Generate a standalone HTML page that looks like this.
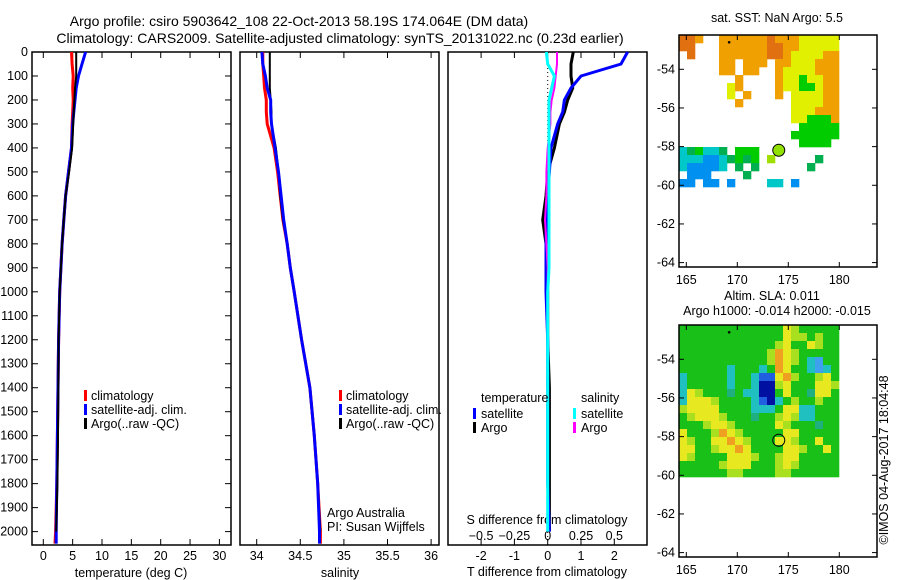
<!DOCTYPE html>
<html><head><meta charset="utf-8"><style>
body{margin:0;background:#fff}
svg{display:block;font-family:"Liberation Sans",sans-serif;font-size:12.5px}
.big{font-size:14px}
</style></head><body>
<svg id="c" width="900" height="580" viewBox="0 0 900 580">
<text class="big" x="299" y="26" text-anchor="middle">Argo profile: csiro 5903642_108 22-Oct-2013 58.19S 174.064E (DM data)</text>
<text class="big" x="340" y="43" text-anchor="middle">Climatology: CARS2009. Satellite-adjusted climatology: synTS_20131022.nc (0.23d earlier)</text>
<text x="777" y="22" text-anchor="middle">sat. SST: NaN Argo: 5.5</text>
<text x="772" y="300" text-anchor="middle">Altim. SLA: 0.011</text>
<text x="777" y="315" text-anchor="middle">Argo h1000: -0.014 h2000: -0.015</text>
<text transform="translate(888,460) rotate(-90)" text-anchor="middle">©IMOS 04-Aug-2017 18:04:48</text>
</svg>
<script>
const depths=[0,50,100,150,200,250,300,400,500,600,700,800,900,1000,1200,1400,1600,1800,2000,2050];
const tClim=[4.8,4.9,5.1,5.0,5.1,5.0,4.9,4.8,4.3,3.8,3.5,3.2,3.0,2.8,2.6,2.5,2.4,2.3,2.1,2.0];
const tSat=[7.2,6.6,6.0,5.6,5.4,5.2,5.0,4.8,4.3,3.8,3.5,3.2,3.0,2.8,2.6,2.5,2.4,2.3,2.2,2.2];
const tArgo=[5.6,5.6,5.6,5.4,5.3,5.2,5.1,4.9,4.4,3.8,3.5,3.2,3.0,2.8,2.6,2.55,2.5,2.4,2.2];
const sClim=[34.07,34.07,34.08,34.09,34.11,34.11,34.12,34.20,34.24,34.27,34.30,34.35,34.385,34.43,34.515,34.61,34.66,34.70,34.73,34.73];
const sSat=[34.06,34.07,34.10,34.12,34.16,34.16,34.17,34.21,34.25,34.28,34.31,34.35,34.385,34.43,34.515,34.61,34.66,34.70,34.72,34.72];
const sArgo=[34.15,34.15,34.15,34.15,34.16,34.17,34.17,34.22,34.25,34.27,34.30,34.35,34.385,34.43,34.515,34.61,34.66,34.70,34.73];
const dtSat=[2.4,2.2,1.0,0.7,0.5,0.45,0.3,0.1,0.05,0.0,-0.05,-0.05,-0.05,-0.05,0.0,0.0,0.0,0.0,0.05];
const dtArgo=[0.77,0.7,0.7,0.75,0.6,0.5,0.35,0.2,0.0,-0.05,-0.15,-0.05,-0.02,0.0,0.0,0.05,0.05,0.05,0.05];
const dsSat=[-0.01,0.0,0.05,0.03,0.01,0.01,0.01,0.01,0.01,0.01,0.01,0.01,0.01,0.0,0.0,0.0,0.0,0.0,0.0];
const dsArgo=[0.07,0.07,0.06,0.05,0.03,0.02,0.02,0.0,-0.01,-0.01,-0.02,-0.01,0.0,0.0,0.0,0.0,0.0,0.0,0.0];
const depthTicks=[0,100,200,300,400,500,600,700,800,900,1000,1100,1200,1300,1400,1500,1600,1700,1800,1900,2000];
const tTicks=[0,5,10,15,20,25,30];
const sTicks=[34,34.5,35,35.5,36];
const dtTicks=[-2,-1,0,1,2];
const dsTicks=[-0.5,-0.25,0,0.25,0.5];
const lonTicks=[165,170,175,180];
const latTicks=[-54,-56,-58,-60,-62,-64];
const sstRows=["OOo..ooooooOoooyyyyy","OO...ooooooOOooyyyyy",".O...ooooooOOoyyyyoo",".....oo.ooo.ooyyyooo",".....oo.oo..oyyyyooo",".......o....oyygyyoo","......yo....oyyggyoo","......y.o...o.yyyyoo",".......o......yyyyoo","..............yyyooo","..............yygggo","...............ggggg","..............gggggg","...............gggg.","cGgccG.ggg..........","cccbbcGgGg.Y.....G..","cbbbbc.G.G......G...",".bbb....G...........","bb.bb.b....cc.b....."];
const slaRows=["gggggggggggggyYggggg","gggggggggggggyYYgYgg","ggggggggggggYyggyYgg","gggggggggggYoyYggggg","gggggggggggYoyYgcCgg","ggggggcgggcgoyggcCcg","cgggggcggcbbyoYggYyg","cgggggcggcBBYygggyyY","cyYgggtgccBBgyggtyyg","cyyyYggggcbBcgYggYgg","Yyyyyggggcccgyyccggg","gYyyyYgggtggYyYccggg","gggYyyYgggggyYgggtgg","ygggYoyYgggggyyggggg","yYggyyoyYgggyyYggygg","yyggYyyoyggggyyYggyg","yYggggyyyYggYyyggggg","gggggYyyygggYyYggggg","ggggggYYggggYYgggggg"];
const argoLon=174.064, argoLat=-58.19;

const svg=document.getElementById('c'),NS='http://www.w3.org/2000/svg';
function mk(t,a,p){const e=document.createElementNS(NS,t);for(const k in a)e.setAttribute(k,a[k]);(p||svg).appendChild(e);return e;}
const Y=d=>52+d*0.2398;
const Xt=v=>43.3+v*5.87, Xs=v=>256.7+(v-34)*87.2, Xd=v=>547.7+v*33.3, Xds=v=>547.7+v*4*33.3;
function line(xs,vals,fn,col,name,w){
  const pts=vals.map((v,i)=>fn(v).toFixed(1)+','+Y(depths[i]).toFixed(1)).join(' ');
  const e=mk('polyline',{points:pts,fill:'none',stroke:col,'stroke-width':w||3});
  
  
}
function frame(x0,x1,name){const e=mk('rect',{x:x0,y:52,width:x1-x0,height:493,fill:'none',stroke:'#000','stroke-width':1.5});
  }
function txt(x,y,s,anchor,name){const e=mk('text',{x:x,y:y,'text-anchor':anchor||'start'});e.textContent=s;
  return e;}
function tick(x1,y1,x2,y2){mk('line',{x1,y1,x2,y2,stroke:'#000','stroke-width':1});}

// panel 1
frame(32,231,'temperature-panel');
depthTicks.forEach(d=>{const y=Y(d);tick(32,y,38,y);tick(231,y,225,y);txt(28,y+4,String(d),'end','depth-tick-label');});
tTicks.forEach(v=>{const x=Xt(v);tick(x,52,x,58);tick(x,545,x,539);txt(x,560,String(v),'middle','temperature-tick-label');});
txt(131,577,'temperature (deg C)','middle','temperature-axis-title');
line(0,tClim,Xt,'#f00','temp-climatology-line');
line(0,tSat,Xt,'#00f','temp-satellite-line');
line(0,tArgo,Xt,'#000','temp-argo-line',2);
// panel 2
frame(240,439,'salinity-panel');
sTicks.forEach(v=>{const x=Xs(v);tick(x,52,x,58);tick(x,545,x,539);txt(x,560,String(v),'middle','salinity-tick-label');});
txt(340,577,'salinity','middle','salinity-axis-title');
line(0,sClim,Xs,'#f00','sal-climatology-line');
line(0,sArgo,Xs,'#000','sal-argo-line',2);
line(0,sSat,Xs,'#00f','sal-satellite-line');
// legends
[[82,'#f00','climatology'],[82,'#00f','satellite-adj. clim.'],[82,'#000','Argo(..raw -QC)']].forEach((l,i)=>{
  [84,339].forEach(bx=>{const y=398+i*14;mk('rect',{x:bx,y:y-8,width:3,height:11,fill:l[1]});txt(bx+7,y+2,l[2],'start','legend-entry');});
});
txt(327,517,'Argo Australia','start','credit-line-1');
txt(327,531,'PI: Susan Wijffels','start','credit-line-2');
// panel 3
frame(448,647,'difference-panel');
mk('line',{x1:Xd(0),y1:52,x2:Xd(0),y2:545,stroke:'#000','stroke-dasharray':'1,3'});
dtTicks.forEach(v=>{const x=Xd(v);tick(x,52,x,58);tick(x,545,x,539);txt(x,560,String(v),'middle','t-diff-tick-label');});
dsTicks.forEach(v=>{txt(Xds(v),540,String(v).replace('-','\u2212'),'middle','s-diff-tick-label');});
txt(547,524,'S difference from climatology','middle','s-diff-axis-title');
txt(547,576,'T difference from climatology','middle','t-diff-axis-title');
line(0,dtArgo,Xd,'#000','t-diff-argo-line');
line(0,dtSat,Xd,'#00f','t-diff-satellite-line');
line(0,dsArgo,Xds,'#f0f','s-diff-argo-line',2);
line(0,dsSat,Xds,'#0ff','s-diff-satellite-line');
txt(481,402,'temperature','start','legend-temperature-heading');
txt(581,402,'salinity','start','legend-salinity-heading');
[['#00f','satellite',473],['#000','Argo',473],['#0ff','satellite',573],['#f0f','Argo',573]].forEach((l,i)=>{
  const y=416+(i%2)*14;mk('rect',{x:l[2],y:y-8,width:3,height:11,fill:l[0]});txt(l[2]+8,y+2,l[1],'start','legend-entry');});
// maps
const LX=v=>686.3+(v-165)*10.2;
const sstCol={O:'#e07010',o:'#f0a000',y:'#e0f000',g:'#00cc00',G:'#00b050',c:'#00c8c8',b:'#0090f0',Y:'#a0e000'};
const slaCol={g:'#18c018',y:'#e8e820',Y:'#a8e020',c:'#20c0c0',C:'#40a0f0',B:'#0010a0',b:'#2060e0',o:'#f0a020',t:'#20b080'};
function map(top,rows,cols,name,circleFill){
  const g=mk('g',{});
  const LY=v=>top+34.3+(-54-v)*19.33;
  const x0=679,y0=top,cw=8,ch=8;
  rows.forEach((r,ri)=>{for(let ci=0;ci<20;ci++){const c=r[ci];if(c&&c!=='.'){const e=mk('rect',{x:x0+ci*cw,y:y0+ri*ch,width:cw+0.3,height:ch+0.3,fill:cols[c]},g);
    }}});
  const fr=mk('rect',{x:679,y:top,width:198,height:232,fill:'none',stroke:'#000','stroke-width':1.5});
  
  lonTicks.forEach(v=>{const x=LX(v);tick(x,top,x,top+5);tick(x,top+232,x,top+227);txt(x,top+249,String(v),'middle','lon-tick-label');});
  latTicks.forEach(v=>{const y=LY(v);tick(679,y,684,y);tick(877,y,872,y);txt(675,y+4,String(v),'end','lat-tick-label');});
  mk('circle',{cx:LX(argoLon),cy:LY(argoLat),r:6,fill:circleFill,stroke:'#000','stroke-width':1});
  mk('circle',{cx:LX(169.2),cy:LY(-52.6),r:1.3,fill:'#000'});
}
map(35,sstRows,sstCol,'sst-map','#90e000');
map(325,slaRows,slaCol,'sla-map','none');
</script>
</body></html>
